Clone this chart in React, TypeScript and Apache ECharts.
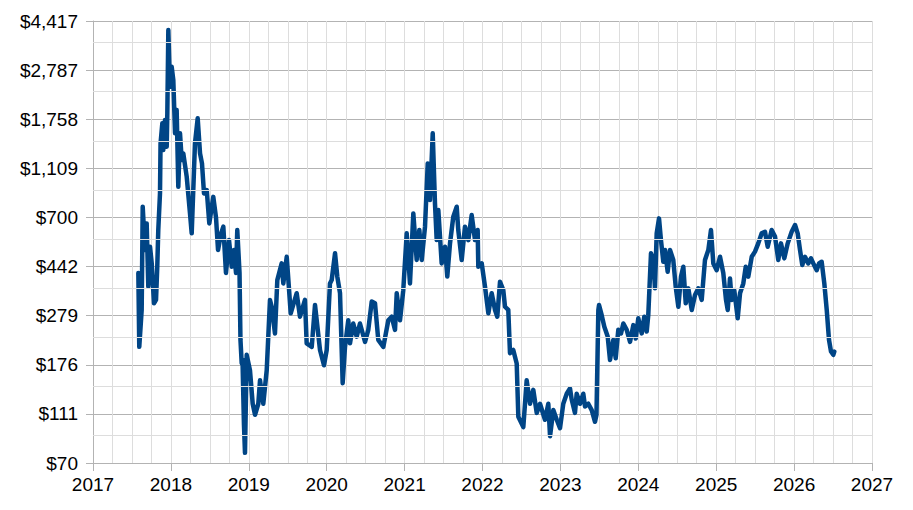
import React, { useEffect, useRef } from "react";
import * as echarts from "echarts";

// Y tick labels (log scale, each step = 10^0.2)
const tickValues = [70, 111, 176, 279, 442, 700, 1109, 1758, 2787, 4417];
const tickLabels = ["$70", "$111", "$176", "$279", "$442", "$700", "$1,109", "$1,758", "$2,787", "$4,417"];
const xYears = [2017, 2018, 2019, 2020, 2021, 2022, 2023, 2024, 2025, 2026, 2027];

// [decimal year, price USD]
const bch2017 = [
  [2017.582, 416], [2017.594, 208], [2017.625, 294], [2017.638, 774], [2017.668, 516], [2017.689, 662],
  [2017.71, 366], [2017.732, 532], [2017.754, 455], [2017.783, 313], [2017.809, 323], [2017.825, 441],
  [2017.838, 622], [2017.86, 877], [2017.867, 1402], [2017.89, 1693], [2017.902, 1317], [2017.924, 1745],
  [2017.946, 1358], [2017.954, 1857], [2017.967, 4059], [2017.988, 2385],
];
const bch2018 = [
  [2018.01, 2877], [2018.031, 2540], [2018.053, 1541], [2018.074, 1916], [2018.095, 933], [2018.117, 1541],
  [2018.139, 1199], [2018.159, 1276], [2018.203, 1025], [2018.245, 727], [2018.267, 603], [2018.309, 1402],
  [2018.344, 1773], [2018.374, 1276], [2018.399, 1162], [2018.425, 877], [2018.46, 905], [2018.493, 662],
  [2018.544, 849], [2018.579, 700], [2018.605, 516], [2018.643, 600], [2018.673, 642], [2018.707, 416],
  [2018.746, 566], [2018.781, 441], [2018.81, 516], [2018.836, 416], [2018.852, 622], [2018.881, 416],
  [2018.893, 222], [2018.909, 178], [2018.919, 185], [2018.938, 100], [2018.951, 77], [2018.973, 193],
];
const bch2019 = [
  [2019.015, 167], [2019.05, 122], [2019.08, 110], [2019.122, 122], [2019.144, 152], [2019.186, 122],
  [2019.23, 167], [2019.272, 323], [2019.294, 303], [2019.336, 236], [2019.366, 389], [2019.422, 455],
  [2019.443, 377], [2019.487, 484], [2019.538, 285], [2019.615, 344], [2019.657, 276], [2019.721, 323],
  [2019.743, 215], [2019.808, 208], [2019.85, 308], [2019.914, 202], [2019.965, 175],
];
const bch2020 = [
  [2020.0, 202], [2020.042, 377], [2020.064, 389], [2020.107, 500], [2020.136, 402], [2020.171, 344],
  [2020.205, 148], [2020.235, 208], [2020.277, 267], [2020.299, 215], [2020.341, 259], [2020.385, 229],
  [2020.427, 259], [2020.492, 218], [2020.534, 244], [2020.578, 318], [2020.62, 313], [2020.662, 222],
  [2020.727, 208], [2020.791, 267], [2020.834, 276], [2020.877, 244], [2020.899, 344], [2020.941, 267],
  [2020.983, 354],
];
const bch2021 = [
  [2021.027, 603], [2021.069, 377], [2021.112, 727], [2021.155, 470], [2021.189, 622], [2021.22, 470],
  [2021.262, 642], [2021.297, 1162], [2021.326, 824], [2021.361, 1541], [2021.39, 799], [2021.412, 566],
  [2021.433, 750], [2021.476, 455], [2021.519, 532], [2021.548, 402], [2021.583, 549], [2021.625, 705],
  [2021.669, 774], [2021.689, 622], [2021.733, 470], [2021.775, 642], [2021.818, 566], [2021.861, 716],
  [2021.904, 566], [2021.938, 622], [2021.946, 441], [2021.99, 455],
];
const bch2022 = [
  [2022.032, 366], [2022.075, 285], [2022.118, 344], [2022.161, 294], [2022.19, 276], [2022.225, 383],
  [2022.267, 354], [2022.289, 303], [2022.331, 294], [2022.353, 196], [2022.395, 202], [2022.439, 178],
  [2022.46, 108], [2022.524, 98], [2022.567, 152], [2022.61, 122], [2022.652, 139], [2022.696, 112],
  [2022.738, 122], [2022.802, 105], [2022.845, 122], [2022.867, 90], [2022.909, 115], [2022.953, 105],
  [2022.995, 97],
];
const bch2023 = [
  [2023.037, 122], [2023.081, 134], [2023.123, 141], [2023.145, 127], [2023.187, 112], [2023.209, 134],
  [2023.252, 122], [2023.294, 134], [2023.316, 119], [2023.358, 122], [2023.402, 115], [2023.444, 103],
  [2023.463, 110], [2023.487, 294], [2023.496, 308], [2023.53, 280], [2023.564, 251], [2023.607, 229],
  [2023.637, 184], [2023.679, 222], [2023.71, 187], [2023.743, 244], [2023.778, 236], [2023.808, 259],
  [2023.851, 244], [2023.894, 218], [2023.936, 255], [2023.967, 225],
];
const bch2024 = [
  [2024.0, 272], [2024.044, 236], [2024.077, 276], [2024.108, 240], [2024.128, 280], [2024.163, 500],
  [2024.193, 470], [2024.214, 360], [2024.236, 603], [2024.266, 694], [2024.291, 566], [2024.321, 462],
  [2024.343, 516], [2024.377, 421], [2024.407, 516], [2024.449, 470], [2024.48, 366], [2024.514, 303],
  [2024.548, 402], [2024.578, 441], [2024.609, 313], [2024.642, 360], [2024.686, 294], [2024.728, 338],
  [2024.77, 360], [2024.814, 323], [2024.856, 470], [2024.899, 516], [2024.933, 622], [2024.963, 455],
];
const bch2025 = [
  [2025.006, 427], [2025.049, 484], [2025.091, 416], [2025.126, 323], [2025.148, 294], [2025.177, 395],
  [2025.199, 323], [2025.232, 354], [2025.276, 272], [2025.306, 344], [2025.348, 377], [2025.379, 441],
  [2025.412, 402], [2025.456, 484], [2025.498, 508], [2025.54, 549], [2025.584, 603], [2025.626, 612],
  [2025.661, 532], [2025.712, 622], [2025.755, 585], [2025.797, 470], [2025.832, 549], [2025.874, 477],
  [2025.918, 549], [2025.969, 612],
];
const bch2026 = [
  [2026.012, 652], [2026.046, 603], [2026.076, 516], [2026.105, 448], [2026.14, 484], [2026.182, 455],
  [2026.217, 477], [2026.247, 455], [2026.29, 427], [2026.32, 455], [2026.354, 462], [2026.388, 377],
  [2026.419, 294], [2026.448, 222], [2026.474, 199], [2026.503, 193], [2026.516, 199],
];

const BASE = 70;
const STEP = 0.2; // decades per labelled step
const toV = (p: number) => Math.log10(p / BASE) / STEP;

export default function App() {
  const ref = useRef<HTMLDivElement>(null);
  useEffect(() => {
    if (!ref.current) return;
    const chart = echarts.init(ref.current, undefined, { renderer: "svg" });
    const all = [...bch2017, ...bch2018, ...bch2019, ...bch2020, ...bch2021, ...bch2022, ...bch2023, ...bch2024, ...bch2025, ...bch2026];
    const data = all.map(([x, p]) => [x, toV(p)]);
    const minorVals = tickValues.slice(0, -1).map((v, i) => toV((v + tickValues[i + 1]) / 2));
    const font = { fontFamily: "Liberation Sans", fontSize: 19, color: "#000" };
    chart.setOption({
      animation: false,
      backgroundColor: "#fff",
      grid: { left: 93, right: 41, top: 21, bottom: 47, containLabel: false },
      xAxis: {
        type: "value",
        min: xYears[0],
        max: xYears[xYears.length - 1],
        interval: 1,
        axisLine: { show: true, lineStyle: { color: "#b3b3b3", width: 1 } },
        axisTick: { show: true, length: 8, lineStyle: { color: "#b3b3b3" } },
        axisLabel: { ...font, margin: 12, formatter: (v: number) => String(v) },
        splitLine: { show: true, lineStyle: { color: "#dddddd", width: 1 } },
        minorTick: { show: false, splitNumber: 4 },
        minorSplitLine: { show: true, lineStyle: { color: "#dddddd", width: 1 } },
      },
      yAxis: {
        type: "value",
        min: 0,
        max: tickValues.length - 1,
        interval: 1,
        axisLine: { show: true, lineStyle: { color: "#b3b3b3", width: 1 } },
        axisTick: { show: true, length: 7, lineStyle: { color: "#b3b3b3" } },
        axisLabel: { ...font, margin: 15, formatter: (v: number) => tickLabels[Math.round(v)] ?? "" },
        splitLine: { show: true, lineStyle: { color: "#b3b3b3", width: 1 } },
      },
      series: [
        {
          type: "line",
          z: 1,
          silent: true,
          data: [],
          markLine: {
            silent: true,
            symbol: ["none", "none"],
            label: { show: false },
            lineStyle: { color: "#dddddd", width: 1, type: "solid" },
            emphasis: { disabled: true },
            data: minorVals.map((v) => ({ yAxis: v })),
          },
        },
        {
          type: "line",
          z: 3,
          data,
          showSymbol: false,
          symbol: "none",
          lineStyle: { color: "#004586", width: 4.5, join: "round", cap: "round" },
        },
      ],
    });
    return () => chart.dispose();
  }, []);
  return <div ref={ref} style={{ position: "fixed", left: 0, top: 0, width: 913, height: 510 }} />;
}
